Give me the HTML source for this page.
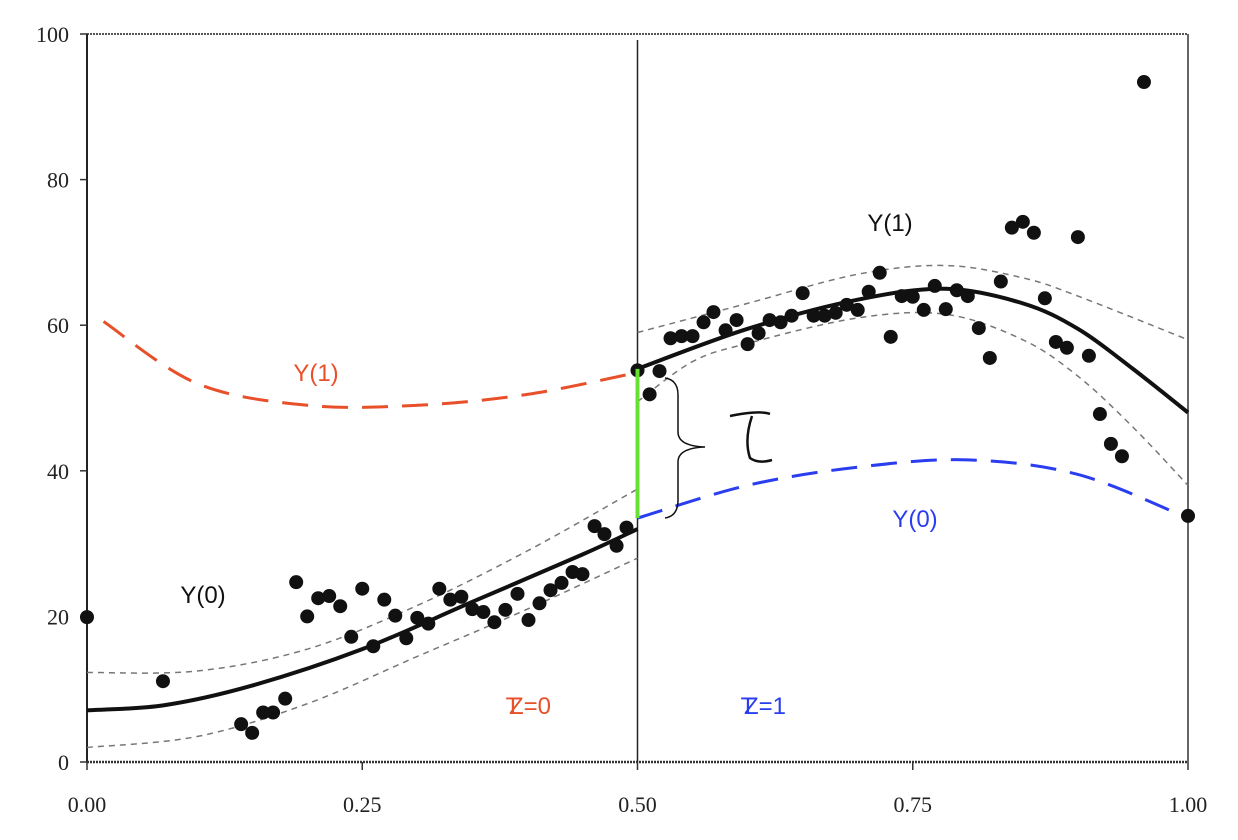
<!DOCTYPE html>
<html><head><meta charset="utf-8"><style>
body{margin:0;background:#fff;}
svg{display:block;font-family:"Liberation Serif",serif;}
.lab{font-family:"Liberation Sans",sans-serif;font-size:24px;}
</style></head><body>
<svg id="chart" width="1238" height="840" viewBox="0 0 1238 840"></svg>
<script>
const xTicks=[0,0.25,0.5,0.75,1];
const xTickLabels=["0.00","0.25","0.50","0.75","1.00"];
const yTicks=[0,20,40,60,80,100];
const ptsX=[0,0.069,0.14,0.15,0.16,0.169,0.18,0.19,0.2,0.21,0.22,0.23,0.24,0.25,0.26,0.27,0.28,0.29,0.3,0.31,0.32,0.33,0.34,0.35,0.36,0.37,0.38,0.391,0.401,0.411,0.421,0.431,0.441,0.45,0.461,0.47,0.481,0.49,
0.5,0.511,0.52,0.53,0.54,0.55,0.56,0.569,0.58,0.59,0.6,0.61,0.62,0.63,0.64,0.65,0.66,0.67,0.68,0.69,0.7,0.71,0.72,0.73,0.74,0.75,0.76,0.77,0.78,0.79,0.8,0.81,0.82,0.83,0.84,0.85,0.86,0.87,0.88,0.89,0.9,0.91,0.92,0.93,0.94,0.96,1.0];
const ptsY=[19.9,11.1,5.2,4.0,6.8,6.8,8.7,24.7,20.0,22.5,22.8,21.4,17.2,23.8,15.9,22.3,20.1,17.0,19.8,19.0,23.8,22.3,22.7,21.0,20.6,19.2,20.9,23.1,19.5,21.8,23.6,24.6,26.1,25.8,32.4,31.3,29.7,32.2,
53.8,50.5,53.7,58.2,58.5,58.5,60.4,61.8,59.3,60.7,57.4,58.9,60.7,60.4,61.3,64.4,61.3,61.3,61.7,62.8,62.1,64.6,67.2,58.4,64.0,63.9,62.1,65.4,62.2,64.8,64.0,59.6,55.5,66.0,73.4,74.2,72.7,63.7,57.7,56.9,72.1,55.8,47.8,43.7,42.0,93.4,33.8];
const fitLX=[0,0.07,0.15,0.25,0.35,0.45,0.5];
const fitLY=[7.1,7.8,10.5,15.5,22,28.5,32];
const upLX=[0,0.1,0.2,0.3,0.4,0.5];
const upLY=[12.3,12.5,15.5,21.5,29,37.5];
const loLX=[0,0.1,0.2,0.3,0.4,0.5];
const loLY=[2,3.5,8,14.5,21,28];
const y1CfX=[0.015,0.1,0.2,0.3,0.4,0.5];
const y1CfY=[60.5,52,49,49,50.5,53.5];
const fitRX=[0.5,0.6,0.7,0.78,0.85,0.9,0.95,1.0];
const fitRY=[54,59.5,63.5,65,63,59.5,54,48];
const upRX=[0.5,0.6,0.7,0.78,0.85,0.9,1.0];
const upRY=[59,63,67,68.2,66.5,64,58];
const loRX=[0.5,0.55,0.6,0.7,0.78,0.85,0.9,0.95,1.0];
const loRY=[49.5,55,57.5,61,61.5,58,53,46,38];
const y0CfX=[0.5,0.6,0.7,0.8,0.9,1.0];
const y0CfY=[33.5,38,40.5,41.5,39.5,33.5];

const X0=87,X1=1188,Y0=762,Y1=34;
const sx=v=>X0+v*(X1-X0);
const sy=v=>Y0-v/100*(Y0-Y1);
const NS="http://www.w3.org/2000/svg";
const svg=document.getElementById('chart');
function mk(tag,attrs,parent){const e=document.createElementNS(NS,tag);for(const k in attrs)e.setAttribute(k,attrs[k]);(parent||svg).appendChild(e);return e;}
function curve(xs,ys){const p=xs.map((x,i)=>[sx(x),sy(ys[i])]);let d="M"+p[0][0]+","+p[0][1];
for(let i=0;i<p.length-1;i++){const a=p[Math.max(i-1,0)],b=p[i],c=p[i+1],e=p[Math.min(i+2,p.length-1)];
d+=" C"+(b[0]+(c[0]-a[0])/6)+","+(b[1]+(c[1]-a[1])/6)+" "+(c[0]-(e[0]-b[0])/6)+","+(c[1]-(e[1]-b[1])/6)+" "+c[0]+","+c[1];}return d;}

// frame
let e;
e=mk('line',{x1:X0,y1:Y1,x2:X1,y2:Y1,stroke:'#555','stroke-width':2,'stroke-dasharray':'2 1'});

e=mk('line',{x1:X1,y1:Y1,x2:X1,y2:Y0,stroke:'#333','stroke-width':1.5});

e=mk('line',{x1:X0,y1:Y1,x2:X0,y2:Y0,stroke:'#222','stroke-width':2});

e=mk('line',{x1:X0,y1:Y0,x2:X1,y2:Y0,stroke:'#333','stroke-width':2.5,'stroke-dasharray':'2 1'});

e=mk('line',{x1:sx(0.5),y1:40,x2:sx(0.5),y2:Y0,stroke:'#222','stroke-width':1.5});

xTicks.forEach((t,i)=>{
 let l=mk('line',{x1:sx(t),y1:Y0,x2:sx(t),y2:Y0+8,stroke:'#333','stroke-width':1.5});
 
 let tx=mk('text',{x:sx(t),y:Y0+50,'text-anchor':'middle','font-size':22,fill:'#222'});
 tx.textContent=xTickLabels[i];
 
});
yTicks.forEach(t=>{
 let l=mk('line',{x1:X0-7,y1:sy(t),x2:X0,y2:sy(t),stroke:'#333','stroke-width':1.5});
 
 let tx=mk('text',{x:X0-18,y:sy(t)+8,'text-anchor':'end','font-size':22,fill:'#222'});
 tx.textContent=t;
 
});
// curves
function path(xs,ys,st,w,da,name){const p=mk('path',{d:curve(xs,ys),fill:'none',stroke:st,'stroke-width':w});if(da)p.setAttribute('stroke-dasharray',da);
}
path(upLX,upLY,'#777',1.5,'6 5','upper-ci-left');
path(loLX,loLY,'#777',1.5,'6 5','lower-ci-left');
path(upRX,upRY,'#777',1.5,'6 5','upper-ci-right');
path(loRX,loRY,'#777',1.5,'6 5','lower-ci-right');
path(y1CfX,y1CfY,'#e8502a',3,'26 14','counterfactual-y1');
path(y0CfX,y0CfY,'#2a3ef0',3,'26 14','counterfactual-y0');
path(fitLX,fitLY,'#111',4,null,'fit-left');
path(fitRX,fitRY,'#111',4,null,'fit-right');
// points
ptsX.forEach((x,i)=>{let c=mk('circle',{cx:sx(x),cy:sy(ptsY[i]),r:7,fill:'#111'});
});
// effect
e=mk('line',{x1:sx(0.5),y1:sy(y0CfY[0]),x2:sx(0.5),y2:sy(fitRY[0]),stroke:'#66e033','stroke-width':4});

e=mk('path',{d:'M665,378 Q678,380 678,395 L678,432 Q678,446 705,447 Q678,448 678,462 L678,500 Q678,516 665,518',fill:'none',stroke:'#111','stroke-width':1.5});

e=mk('path',{d:'M730,416 Q760,410 770,414 M752,416 Q744,440 750,458 Q758,464 772,460',fill:'none',stroke:'#111','stroke-width':2.5});

function lab(x,y,t,c,name){const tx=mk('text',{x:x,y:y,'text-anchor':'middle',fill:c,class:'lab'});tx.textContent=t;
}
lab(316,381,'Y(1)','#e8502a','label-y1-counterfactual');
lab(890,231,'Y(1)','#111','label-y1');
lab(203,603,'Y(0)','#111','label-y0');
lab(915,527,'Y(0)','#2a3ef0','label-y0-counterfactual');
lab(530,714,'Z=0','#e8502a','label-control');
lab(513,714,'T','#e8502a','label-control-overlay');
lab(765,714,'Z=1','#2a3ef0','label-treated');
lab(748,714,'T','#2a3ef0','label-treated-overlay');
</script>
</body></html>
